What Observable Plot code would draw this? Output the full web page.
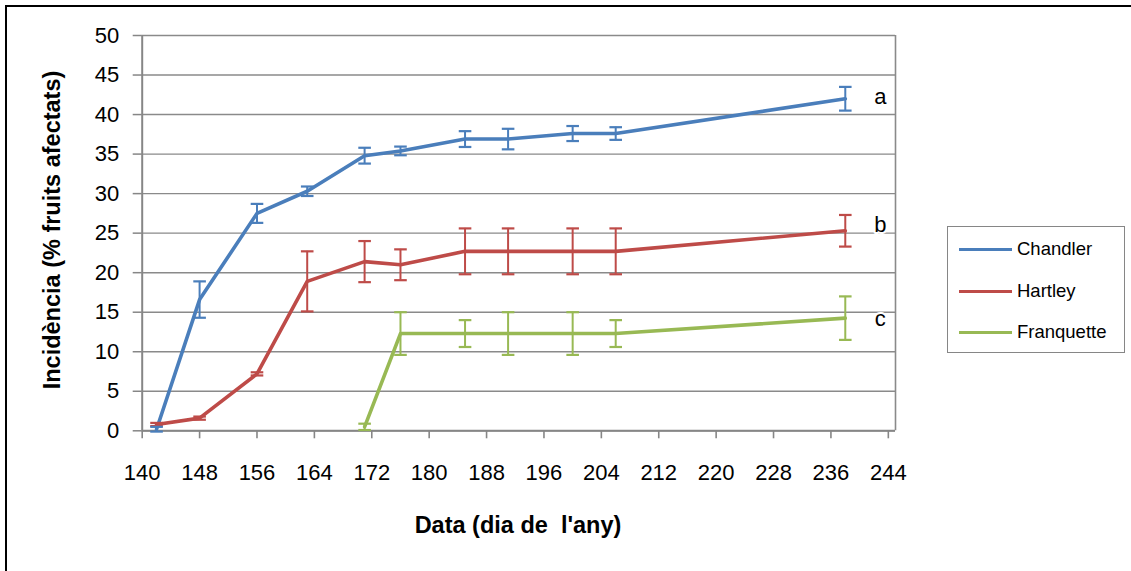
<!DOCTYPE html>
<html>
<head>
<meta charset="utf-8">
<script src="https://cdn.jsdelivr.net/npm/d3@7"></script>
<script src="https://cdn.jsdelivr.net/npm/@observablehq/plot@0.6"></script>
<style>
  html, body { margin: 0; padding: 0; background: #fff; }
  #wrap { position: relative; width: 1131px; height: 571px; overflow: hidden; font-family: "Liberation Sans", Arial, sans-serif; }
  #border { position: absolute; left: 5px; top: 5px; width: 1200px; height: 700px; border-top: 2px solid #000; border-left: 2px solid #000; }
  .title { position: absolute; font-weight: bold; font-size: 23.5px; white-space: pre; color: #000; }
  #legend { position: absolute; left: 947px; top: 226px; width: 176px; height: 125px; border: 1.5px solid #868686; background: #fff; }
  .lg { position: absolute; left: 11px; height: 24px; font-size: 18.5px; color: #000; }
  .lg span.sw { position: absolute; left: 0; top: 11px; width: 53px; height: 3px; }
  .lg span.tx { position: absolute; left: 58px; top: 0; white-space: nowrap; line-height: 24px; }
</style>
</head>
<body>
<div id="wrap">
  <div id="border"></div>
  <div id="chart"></div>
  <div class="title" id="ytitle" style="left:52px; top:230px; transform: translate(-50%,-50%) rotate(-90deg);"></div>
  <div class="title" id="xtitle" style="left:518px; top:525px; transform: translate(-50%,-50%);"></div>
  <div id="legend"></div>
</div>
<script>
// ---- data ----
const daysAll = [142, 148, 156, 163, 171, 176, 185, 191, 200, 206, 238];
const chandler = [0.2, 16.6, 27.5, 30.3, 34.8, 35.4, 36.9, 36.9, 37.6, 37.6, 42.0];
const chandlerErr = [0.3, 2.3, 1.2, 0.6, 1.0, 0.55, 1.0, 1.3, 0.95, 0.8, 1.5];
const hartley = [0.8, 1.6, 7.2, 18.9, 21.4, 21.0, 22.7, 22.7, 22.7, 22.7, 25.3];
const hartleyErr = [0.2, 0.2, 0.2, 3.8, 2.6, 1.95, 2.9, 2.9, 2.9, 2.9, 2.0];
const daysFranq = [171, 176, 185, 191, 200, 206, 238];
const franquette = [0.5, 12.3, 12.3, 12.3, 12.3, 12.3, 14.25];
const franquetteErr = [0.4, 2.7, 1.7, 2.7, 2.7, 1.7, 2.75];

const seriesNames = ["Chandler", "Hartley", "Franquette"];
const seriesColors = ["#4A7EBB", "#BE4B48", "#98B954"];
const groupLetters = ["a", "b", "c"];
const letterY = [42.2, 26.0, 14.2];

const xTicks = [140, 148, 156, 164, 172, 180, 188, 196, 204, 212, 220, 228, 236, 244];
const yTicks = [0, 5, 10, 15, 20, 25, 30, 35, 40, 45, 50];
const xDomain = [140, 245];
const yDomain = [0, 50];

const yTitle = "Incidència (% fruits afectats)";
const xTitle = "Data (dia de  l'any)";

// ---- build table ----
const raw = [
  [daysAll, chandler, chandlerErr],
  [daysAll, hartley, hartleyErr],
  [daysFranq, franquette, franquetteErr]
];
const rows = [];
raw.forEach(([days, vals, errs], i) => {
  days.forEach((d, j) => rows.push({series: seriesNames[i], x: d, y: vals[j], lo: vals[j] - errs[j], hi: vals[j] + errs[j]}));
});
const lastPts = seriesNames.map((s, i) => {
  const r = rows.filter(d => d.series === s);
  return {series: s, x: r[r.length - 1].x, y: letterY[i], letter: groupLetters[i]};
});

const capSymbol = { draw(ctx) { ctx.moveTo(-6.3, 0); ctx.lineTo(6.3, 0); } };
const gridColor = "#8a8a8a";
const axisColor = "#868686";

const chart = Plot.plot({
  width: 1131,
  height: 571,
  marginLeft: 141.7,
  marginRight: 236,
  marginTop: 35,
  marginBottom: 140.7,
  style: { fontFamily: "'Liberation Sans', Arial, sans-serif", color: "#000", background: "transparent", overflow: "visible" },
  x: { domain: xDomain },
  y: { domain: yDomain },
  color: { domain: seriesNames, range: seriesColors },
  marks: [
    Plot.ruleY(yTicks, { stroke: gridColor, strokeWidth: 1.4 }),
    Plot.ruleX([xDomain[1]], { stroke: gridColor, strokeWidth: 1.6 }),
    Plot.axisY({ ticks: yTicks, tickSize: 9, tickPadding: 14, stroke: axisColor, strokeWidth: 1.5, fontSize: 22, label: null }),
    Plot.axisX({ ticks: xTicks, tickSize: 8, tickPadding: 26, stroke: axisColor, strokeWidth: 1.6, fontSize: 22, label: null }),
    Plot.ruleY([yDomain[0]], { stroke: axisColor, strokeWidth: 2 }),
    Plot.ruleX([xDomain[0]], { stroke: axisColor, strokeWidth: 2 }),
    Plot.line(rows, { x: "x", y: "y", z: "series", stroke: "series", strokeWidth: 3.6 }),
    Plot.ruleX(rows, { x: "x", y1: "lo", y2: "hi", stroke: "series", strokeWidth: 2 }),
    Plot.dot(rows, { x: "x", y: "lo", symbol: capSymbol, stroke: "series", strokeWidth: 2.2, fill: "none" }),
    Plot.dot(rows, { x: "x", y: "hi", symbol: capSymbol, stroke: "series", strokeWidth: 2.2, fill: "none" }),
    Plot.text(lastPts, { x: "x", y: "y", text: "letter", dx: 35, fontSize: 22, fill: "#000", stroke: "white", strokeWidth: 4, clip: false })
  ]
});
document.getElementById("chart").appendChild(chart);

document.getElementById("ytitle").textContent = yTitle;
document.getElementById("xtitle").textContent = xTitle;

const legend = document.getElementById("legend");
const legendTops = [10, 52, 93];
seriesNames.forEach((s, i) => {
  const row = document.createElement("div");
  row.className = "lg";
  row.style.top = legendTops[i] + "px";
  row.innerHTML = `<span class="sw" style="background:${seriesColors[i]}"></span><span class="tx">${s}</span>`;
  legend.appendChild(row);
});
</script>
</body>
</html>
